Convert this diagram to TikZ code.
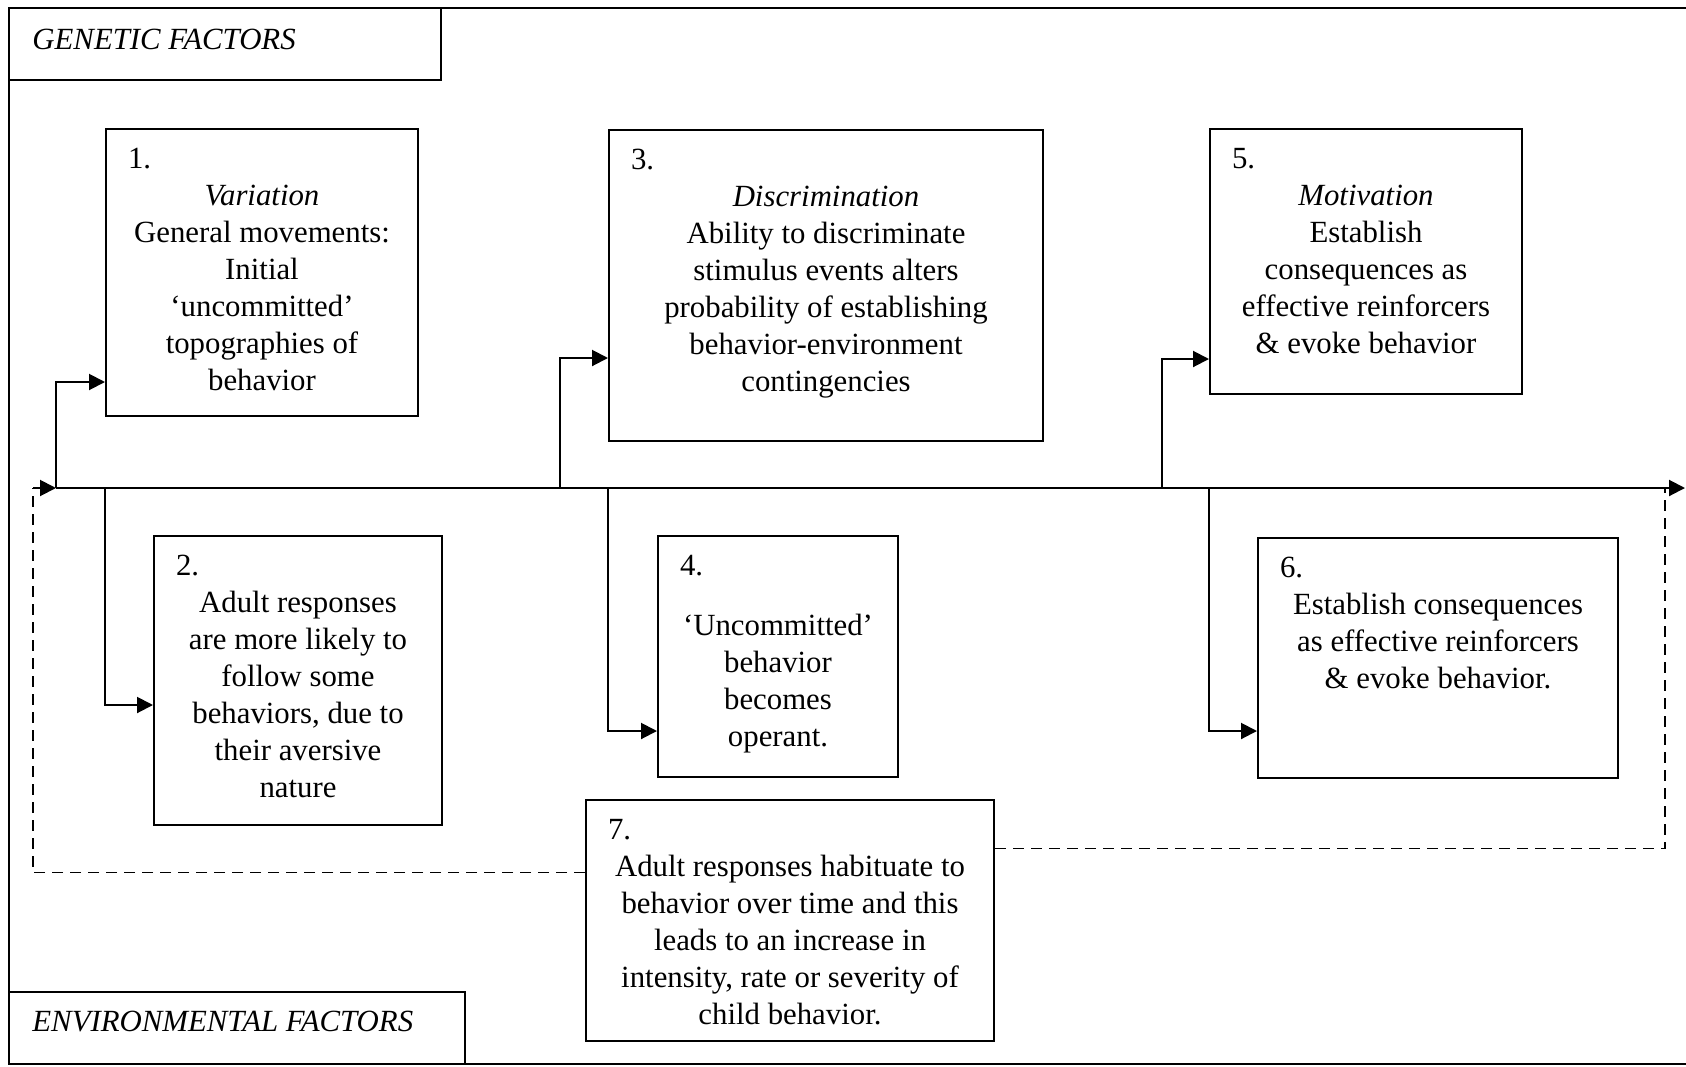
\documentclass[tikz,border=0pt]{standalone}
\usepackage{fontspec}
\setmainfont{Liberation Serif}
\usetikzlibrary{arrows.meta,calc}

\tikzset{
  stage/.style={draw, line width=1pt, inner sep=0pt, anchor=north west},
  flow/.style={line width=1pt, -{Triangle[length=8pt,width=8pt]}},
  feedback/.style={line width=0.9pt, dash pattern=on 5.5pt off 3.5pt},
  frame/.style={line width=1pt},
  factor/.style={anchor=base west, inner sep=0pt, font=\fontsize{15.4pt}{18.5pt}\selectfont\itshape}
}
% box text: width, height, number, centred body
\newcommand{\stagetext}[4]{\parbox[t][#2][t]{#1}{\vspace*{7pt}\makebox[#1][l]{\hspace{11pt}\strut#3}\par\centering#4\par}}

\begin{document}
\begin{tikzpicture}[x=0.5pt,y=0.5pt,yscale=-1,font=\fontsize{15.4pt}{18.5pt}\selectfont]
\useasboundingbox (0,0) rectangle (1686,1066);

%Shape: Frame
\draw[frame] (1686,8) -- (9,8) -- (9,1064) -- (1686,1064);
\draw[frame] (9,8) rectangle (441,80);
\draw[frame] (9,992) rectangle (465,1064);

% Text Node
\node[factor] (genetic) at (32,49) {GENETIC FACTORS};
% Text Node
\node[factor] (environ) at (32,1031) {ENVIRONMENTAL FACTORS};

%Shape: Rectangle
\node[stage] (b1) at (105,128) {\stagetext{156pt}{143.5pt}{1.}{\textit{Variation}\\General movements:\\Initial\\`uncommitted'\\topographies of\\behavior}};
%Shape: Rectangle
\node[stage] (b2) at (153,535) {\stagetext{144pt}{144.5pt}{2.}{Adult responses\\are more likely to\\follow some\\behaviors, due to\\their aversive\\nature}};
%Shape: Rectangle
\node[stage] (b3) at (608,129) {\stagetext{217pt}{155.5pt}{3.}{\textit{Discrimination}\\Ability to discriminate\\stimulus events alters\\probability of establishing\\behavior-environment\\contingencies}};
%Shape: Rectangle
\node[stage] (b4) at (657,535) {\stagetext{120pt}{120.5pt}{4.}{\vspace*{11.5pt}`Uncommitted'\\behavior\\becomes\\operant.}};
%Shape: Rectangle
\node[stage] (b5) at (1209,128) {\stagetext{156pt}{132.5pt}{5.}{\textit{Motivation}\\Establish\\consequences as\\effective reinforcers\\\& evoke behavior}};
%Shape: Rectangle
\node[stage] (b6) at (1257,537) {\stagetext{180pt}{120pt}{6.}{Establish consequences\\as effective reinforcers\\\& evoke behavior.}};
%Shape: Rectangle
\node[stage] (b7) at (585,799) {\stagetext{204pt}{120.5pt}{7.}{Adult responses habituate to\\behavior over time and this\\leads to an increase in\\intensity, rate or severity of\\child behavior.}};

% junctions on the main line
\coordinate (back) at (33,488);
\coordinate (j1) at (56,488);
\coordinate (j2) at (105,488);
\coordinate (j3) at (560,488);
\coordinate (j4) at (608,488);
\coordinate (j5) at (1162,488);
\coordinate (j6) at (1209,488);
\coordinate (jr) at (1665,488);
\coordinate (tip) at (1685,488);

%Straight Lines
\draw[flow] (back) -- (j1);
\draw[flow] (j1) -- (tip);

%Straight Lines
\draw[flow] (j1) |- ($(b1.south west)+(0,-35)$);
\draw[flow] (j2) |- ($(b2.north west)+(0,170)$);
\draw[flow] (j3) |- ($(b3.south west)+(0,-84)$);
\draw[flow] (j4) |- ($(b4.south west)+(0,-47)$);
\draw[flow] (j5) |- ($(b5.south west)+(0,-36)$);
\draw[flow] (j6) |- ($(b6.south west)+(0,-48)$);

%Dashed Lines
\draw[feedback] ($(b7.west)+(0,-48)$) -| (back);
\draw[feedback] ($(b7.east)+(0,-72)$) -| (jr);

\end{tikzpicture}
\end{document}
